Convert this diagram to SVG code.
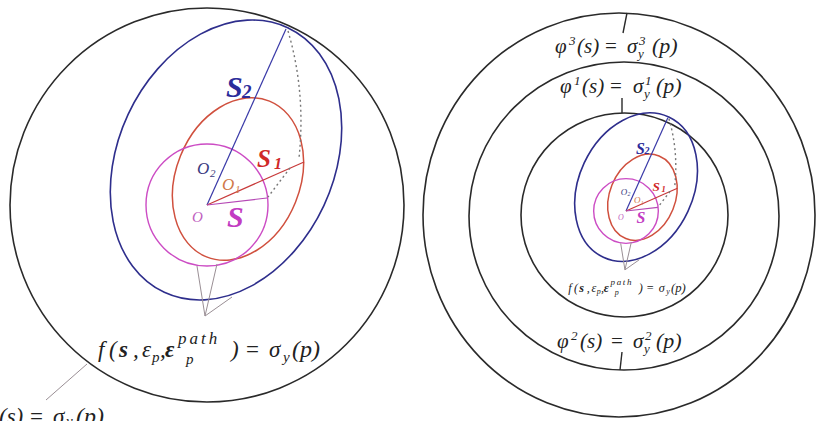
<svg xmlns="http://www.w3.org/2000/svg" xmlns:xlink="http://www.w3.org/1999/xlink" width="817" height="421" viewBox="0 0 817 421">
<style>
.ring{fill:none;stroke:#2a2a2a;stroke-width:1.6}
.s2e{fill:none;stroke:#2e2e8c;stroke-width:1.6}
.s1e{fill:none;stroke:#d0503e;stroke-width:1.5}
.sc{fill:none;stroke:#cc4cc4;stroke-width:1.4}
.ln{stroke-width:1.2;fill:none}
.dot{fill:none;stroke:#777;stroke-width:1.4;stroke-dasharray:2 3}
.lead{stroke:#9a8f95;stroke-width:1;fill:none}
.tick{stroke:#2a2a2a;stroke-width:1.4}
text{font-family:"Liberation Serif","DejaVu Serif",serif;font-style:italic}
.bi{font-weight:bold}
.m{fill:#222}
</style>
<rect width="817" height="421" fill="#ffffff"/>

<g id="left-panel">
  <circle class="ring" cx="207" cy="205" r="197"/>
  <g id="inner">
    <ellipse class="s2e" cx="226" cy="160" rx="108" ry="146" transform="rotate(25 226 160)" vector-effect="non-scaling-stroke"/>
    <ellipse class="s1e" cx="238" cy="179" rx="62" ry="84" transform="rotate(22 238 179)" vector-effect="non-scaling-stroke"/>
    <circle class="sc" cx="207" cy="205" r="61" vector-effect="non-scaling-stroke"/>
    <g id="connectors">
      <line class="ln" x1="207" y1="205" x2="286" y2="29" stroke="#3a3aa8" vector-effect="non-scaling-stroke"/>
      <line class="ln" x1="207" y1="205" x2="304" y2="162" stroke="#c83a3a" stroke-width="1.5" vector-effect="non-scaling-stroke"/>
      <line class="ln" x1="207" y1="205" x2="267" y2="198" stroke="#b548b5" vector-effect="non-scaling-stroke"/>
      <path class="dot" d="M288 31 Q306 92 299 158" vector-effect="non-scaling-stroke"/>
      <path class="dot" d="M290 168 L268 197" vector-effect="non-scaling-stroke"/>
      <line class="lead" x1="197" y1="266" x2="205" y2="316" stroke="#d6a8c8" vector-effect="non-scaling-stroke"/>
      <line class="lead" x1="217" y1="264" x2="205" y2="316" stroke="#d6a8c8" vector-effect="non-scaling-stroke"/>
      <line class="lead" x1="232" y1="297" x2="205" y2="316" vector-effect="non-scaling-stroke"/>
    </g>
    <g id="labels">
      <text x="226" y="97" class="bi" font-size="30" fill="#2c2c9a">S</text>
      <text x="242" y="98" class="bi" font-size="19" fill="#2c2c9a">2</text>
      <text x="257" y="167" class="bi" font-size="25" fill="#d02828">S</text>
      <text x="274" y="169" class="bi" font-size="16" fill="#d02828">1</text>
      <text x="227" y="227" class="bi" font-size="30" fill="#c23cc2">S</text>
      <text x="197" y="174" font-size="17" fill="#3a3a80">O</text>
      <text x="210" y="177" font-size="11" fill="#3a3a80">2</text>
      <text x="222" y="190" font-size="17" fill="#d07848">O</text>
      <text x="235" y="193" font-size="11" fill="#d07848">1</text>
      <text x="192" y="222" font-size="15" fill="#c060c0">O</text>
      <text class="m" font-size="23"><tspan x="98" y="357">f</tspan><tspan x="109" y="357">(</tspan><tspan x="119" y="357" class="bi">s</tspan><tspan x="133" y="357">,</tspan><tspan x="142" y="357">ε</tspan><tspan x="152" y="362" font-size="15">p</tspan><tspan x="160" y="357">,</tspan><tspan x="165" y="357" class="bi">ε</tspan><tspan x="178" y="344" font-size="17" letter-spacing="3">path</tspan><tspan x="186" y="364" font-size="15">p</tspan><tspan x="231" y="357">)</tspan><tspan x="246" y="357" font-style="normal">=</tspan><tspan x="269" y="357">σ</tspan><tspan x="283" y="362" font-size="15">y</tspan><tspan x="292" y="357" font-size="24">(p)</tspan></text>
    </g>
  </g>
  <line class="lead" x1="87" y1="364" x2="46" y2="400" stroke="#777"/>
  <text class="m" font-size="23"><tspan x="-1" y="424">(s)</tspan><tspan x="30" y="424" font-style="normal">=</tspan><tspan x="53" y="424">σ</tspan><tspan x="66" y="426" font-size="15">y</tspan><tspan x="76" y="424" font-size="24">(p)</tspan></text>
</g>

<g id="right-panel">
  <ellipse class="ring" cx="619" cy="215" rx="196" ry="202"/>
  <ellipse class="ring" cx="624" cy="216" rx="155" ry="154"/>
  <ellipse class="ring" cx="624.5" cy="215" rx="103.5" ry="102"/>
  <use xlink:href="#inner" href="#inner" transform="translate(626 211) scale(0.53) translate(-207 -205)"/>
  <g id="ticks">
    <line class="tick" x1="627" y1="13" x2="623" y2="33"/>
    <line class="tick" x1="622" y1="98" x2="622" y2="113"/>
    <line class="tick" x1="622" y1="352" x2="620" y2="370"/>
  </g>
  <g id="phi3">
    <text class="m" font-size="21"><tspan x="555" y="53">φ</tspan><tspan x="569" y="45" font-size="13">3</tspan><tspan x="577" y="53">(s)</tspan><tspan x="605" y="53" font-style="normal">=</tspan><tspan x="627" y="53">σ</tspan><tspan x="639" y="45" font-size="13">3</tspan><tspan x="638" y="58" font-size="13">y</tspan><tspan x="652" y="53" font-size="22">(p)</tspan></text>
  </g>
  <g id="phi1">
    <text class="m" font-size="21"><tspan x="560" y="93">φ</tspan><tspan x="574" y="85" font-size="13">1</tspan><tspan x="582" y="93">(s)</tspan><tspan x="610" y="93" font-style="normal">=</tspan><tspan x="633" y="93">σ</tspan><tspan x="645" y="85" font-size="13">1</tspan><tspan x="644" y="98" font-size="13">y</tspan><tspan x="656" y="93" font-size="22">(p)</tspan></text>
  </g>
  <g id="phi2">
    <text class="m" font-size="21"><tspan x="557" y="348">φ</tspan><tspan x="571" y="340" font-size="13">2</tspan><tspan x="580" y="348">(s)</tspan><tspan x="611" y="348" font-style="normal">=</tspan><tspan x="633" y="348">σ</tspan><tspan x="645" y="340" font-size="13">2</tspan><tspan x="644" y="353" font-size="13">y</tspan><tspan x="656" y="348" font-size="22">(p)</tspan></text>
  </g>
</g>
</svg>
